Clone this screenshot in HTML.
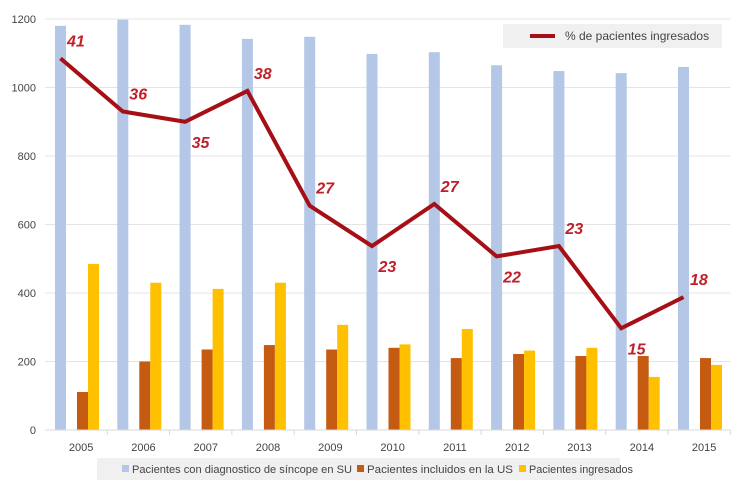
<!DOCTYPE html>
<html><head><meta charset="utf-8"><style>
body{margin:0;background:#fff;}
svg{display:block;font-family:"Liberation Sans",sans-serif;}
</style></head><body>
<svg id="chart" width="750" height="500">
<g id="grid"></g><g id="bars"></g><g id="line"></g><g id="axes"></g>
<g>
<rect x="503" y="24" width="219" height="24" fill="#f0f0f0"/>
<line x1="530" y1="36" x2="555" y2="36" stroke="#a50f15" stroke-width="4"/>
<text x="565" y="40" font-size="12" fill="#444">% de pacientes ingresados</text>
</g>
<g>
<rect x="97" y="458" width="523" height="22" fill="#f0f0f0"/>
<rect x="122" y="465" width="7" height="7" fill="#b4c7e7"/>
<text x="132" y="473" font-size="11" fill="#444" textLength="220" lengthAdjust="spacingAndGlyphs">Pacientes con diagnostico de síncope en SU</text>
<rect x="357" y="465" width="7" height="7" fill="#c55a11"/>
<text x="367" y="473" font-size="11" fill="#444" textLength="146" lengthAdjust="spacingAndGlyphs">Pacientes incluidos en la US</text>
<rect x="519" y="465" width="7" height="7" fill="#ffc000"/>
<text x="529" y="473" font-size="11" fill="#444" textLength="104" lengthAdjust="spacingAndGlyphs">Pacientes ingresados</text>
</g>
</svg>
<script>
const years=["2005","2006","2007","2008","2009","2010","2011","2012","2013","2014","2015"];
const diagnosed=[1180,1198,1183,1142,1148,1098,1103,1065,1048,1042,1060];
const included=[111,200,235,248,235,240,210,222,216,216,210];
const admitted=[485,430,412,430,307,250,295,232,240,155,190];
const pctLine=[1085,930,900,990,655,537,660,507,537,297,388];
const pctLabels=["41","36","35","38","27","23","27","22","23","15","18"];
const yTicks=[0,200,400,600,800,1000,1200];
const NS="http://www.w3.org/2000/svg";
const x0=45,step=62.3,y0=430,yk=411/1200;
const Y=v=>y0-v*yk;
const X=i=>x0+i*step;
function el(t,a,p){const e=document.createElementNS(NS,t);for(const k in a)e.setAttribute(k,a[k]);document.getElementById(p).appendChild(e);return e;}
yTicks.forEach(v=>{
 const g=el("line",{x1:x0,x2:X(11),y1:Y(v),y2:Y(v),stroke:"#e4e4e4","stroke-width":1},"grid");
 
 
 const t=el("text",{x:36,y:Y(v)+4,"text-anchor":"end","font-size":11,fill:"#444"},"axes");
 t.textContent=v;
 
 
});
years.forEach((yr,i)=>{
 const b1=el("rect",{x:X(i)+10,y:Y(diagnosed[i]),width:11,height:diagnosed[i]*yk,fill:"#b4c7e7"},"bars");
 
 
 const b2=el("rect",{x:X(i)+32,y:Y(included[i]),width:11,height:included[i]*yk,fill:"#c55a11"},"bars");
 
 
 const b3=el("rect",{x:X(i)+43,y:Y(admitted[i]),width:11,height:admitted[i]*yk,fill:"#ffc000"},"bars");
 
 
 const tk=el("line",{x1:X(i+1),x2:X(i+1),y1:y0,y2:y0+5,stroke:"#d9d9d9"},"axes");
 
 
 const t=el("text",{x:X(i)+step/2+5,y:451,"text-anchor":"middle","font-size":11,fill:"#444"},"axes");
 t.textContent=yr;
 
 
});
const ax=el("line",{x1:x0,x2:X(11),y1:y0,y2:y0,stroke:"#d9d9d9"},"axes");


const pts=pctLine.map((v,i)=>(X(i)+15.5)+","+Y(v)).join(" ");
const pl=el("polyline",{points:pts,fill:"none",stroke:"#a50f15","stroke-width":4,"stroke-linejoin":"miter"},"line");


const below=[false,false,true,false,false,true,false,true,false,true,false];
pctLabels.forEach((l,i)=>{
 const dy=below[i]?26:-12;
 const t=el("text",{x:X(i)+22,y:Y(pctLine[i])+dy,"font-size":16,"font-style":"italic","font-weight":"bold",fill:"#c0202a"},"line");
 t.textContent=l;
 
 
});
</script>
</body></html>
